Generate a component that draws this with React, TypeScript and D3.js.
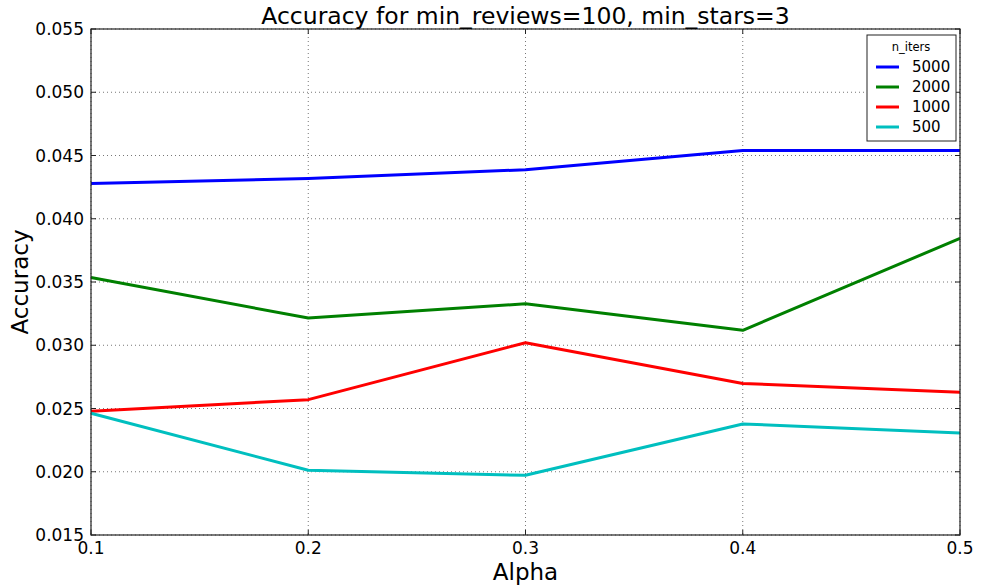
import * as d3 from 'd3';
import React from 'react';

const alphas = [0.1, 0.2, 0.3, 0.4, 0.5];
const iters5000 = [0.04278, 0.04318, 0.04388, 0.04540, 0.04540];
const iters2000 = [0.03535, 0.03215, 0.03328, 0.03118, 0.03845];
const iters1000 = [0.02478, 0.02570, 0.03020, 0.02698, 0.02628];
const iters500 = [0.02462, 0.02012, 0.01972, 0.02378, 0.02306];
const yTicks = [0.015, 0.02, 0.025, 0.03, 0.035, 0.04, 0.045, 0.05, 0.055];

const series = [
  { name: '5000', values: iters5000, color: '#0000ff' },
  { name: '2000', values: iters2000, color: '#008000' },
  { name: '1000', values: iters1000, color: '#ff0000' },
  { name: '500', values: iters500, color: '#00bfbf' },
];

const W = 981;
const H = 588;
const margin = { top: 29, right: 21, bottom: 53, left: 91 };
const FONT = 'DejaVu Sans, sans-serif';

export default function App() {
  const innerW = W - margin.left - margin.right;
  const innerH = H - margin.top - margin.bottom;

  const x = d3.scaleLinear().domain([0.1, 0.5]).range([0, innerW]);
  const y = d3.scaleLinear().domain([0.015, 0.055]).range([innerH, 0]);
  const line = d3
    .line<number>()
    .x((_, i) => x(alphas[i]))
    .y((d) => y(d));

  return (
    <div style={{ position: 'absolute', left: 0, top: 0 }}>
      <svg width={W} height={H} style={{ display: 'block', background: '#fff' }} fontFamily={FONT}>
        <g transform={`translate(${margin.left},${margin.top})`}>
          {/* grid */}
          {yTicks.map((t) => (
            <line key={'gy' + t} x1={0} x2={innerW} y1={y(t)} y2={y(t)} stroke="#777" strokeWidth={1} strokeDasharray="1,3" />
          ))}
          {alphas.map((t) => (
            <line key={'gx' + t} x1={x(t)} x2={x(t)} y1={0} y2={innerH} stroke="#777" strokeWidth={1} strokeDasharray="1,3" />
          ))}

          {/* lines */}
          {series.map((s) => (
            <path key={s.name} d={line(s.values) || ''} fill="none" stroke={s.color} strokeWidth={3} strokeLinejoin="round" />
          ))}

          {/* frame */}
          <rect x={0} y={0} width={innerW} height={innerH} fill="none" stroke="#222" strokeWidth={1.2} />

          {/* ticks, inward on all sides */}
          {yTicks.map((t) => (
            <g key={'ty' + t}>
              <line x1={0} x2={5} y1={y(t)} y2={y(t)} stroke="#222" />
              <line x1={innerW - 5} x2={innerW} y1={y(t)} y2={y(t)} stroke="#222" />
              <text x={-7} y={y(t)} dy="0.36em" textAnchor="end" fontSize={17} fill="#000">
                {d3.format('.3f')(t)}
              </text>
            </g>
          ))}
          {alphas.map((t) => (
            <g key={'tx' + t}>
              <line x1={x(t)} x2={x(t)} y1={innerH} y2={innerH - 5} stroke="#222" />
              <line x1={x(t)} x2={x(t)} y1={0} y2={5} stroke="#222" />
              <text x={x(t)} y={innerH + 19} textAnchor="middle" fontSize={17} fill="#000">
                {d3.format('.1f')(t)}
              </text>
            </g>
          ))}

          {/* labels */}
          <text x={innerW / 2} y={-5} textAnchor="middle" fontSize={23.5} fill="#000">
            Accuracy for min_reviews=100, min_stars=3
          </text>
          <text x={innerW / 2} y={innerH + 45} textAnchor="middle" fontSize={23} fill="#000">
            Alpha
          </text>
          <text transform={`translate(${-63},${innerH / 2}) rotate(-90)`} textAnchor="middle" fontSize={23} fill="#000">
            Accuracy
          </text>

          {/* legend */}
          <g transform={`translate(${867 - margin.left},${35 - margin.top})`}>
            <rect x={0} y={0} width={89} height={106} fill="#fff" stroke="#222" strokeWidth={1} />
            <text x={44} y={16} textAnchor="middle" fontSize={11.5} fill="#000">
              n_iters
            </text>
            {series.map((s, i) => (
              <g key={'lg' + s.name} transform={`translate(0,${32 + i * 20})`}>
                <line x1={9} x2={32} y1={0} y2={0} stroke={s.color} strokeWidth={3} />
                <text x={45} y={0} dy="0.36em" textAnchor="start" fontSize={15} fill="#000">
                  {s.name}
                </text>
              </g>
            ))}
          </g>
        </g>
      </svg>
    </div>
  );
}
